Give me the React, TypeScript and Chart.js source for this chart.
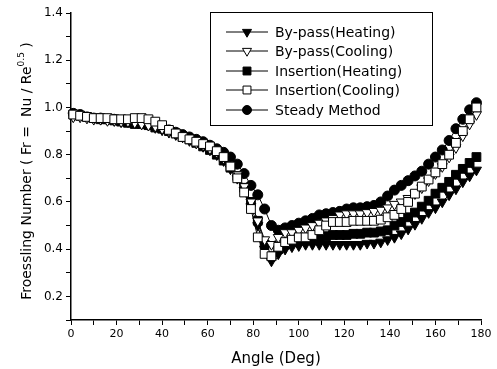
import { useEffect, useRef } from 'react';
import { Chart, registerables } from 'chart.js';

Chart.register(...registerables);

const FONT = '"DejaVu Sans", sans-serif';

// Angles (deg), every 3 degrees
const angles = [
  1, 4, 7, 10, 13, 16, 19, 22, 25, 28, 31, 34,
  37, 40, 43, 46, 49, 52, 55, 58, 61, 64, 67, 70,
  73, 76, 79, 82, 85, 88, 91, 94, 97, 100, 103, 106,
  109, 112, 115, 118, 121, 124, 127, 130, 133, 136, 139, 142,
  145, 148, 151, 154, 157, 160, 163, 166, 169, 172, 175, 178,
];

const bypassHeating = [
  0.965, 0.965, 0.96, 0.955, 0.95, 0.95, 0.945, 0.94, 0.94, 0.935, 0.93, 0.925,
  0.915, 0.905, 0.895, 0.885, 0.875, 0.86, 0.85, 0.835, 0.82, 0.8, 0.775, 0.74,
  0.7, 0.65, 0.58, 0.5, 0.4, 0.35, 0.38, 0.4, 0.41, 0.415, 0.42, 0.42,
  0.42, 0.42, 0.42, 0.42, 0.42, 0.42, 0.42, 0.425, 0.425, 0.43, 0.44, 0.45,
  0.465, 0.485, 0.505, 0.53, 0.555, 0.575, 0.6, 0.63, 0.655, 0.685, 0.71, 0.735,
];

const bypassCooling = [
  0.96, 0.96, 0.955, 0.95, 0.95, 0.945, 0.945, 0.94, 0.94, 0.935, 0.93, 0.925,
  0.92, 0.91, 0.9, 0.89, 0.88, 0.865, 0.85, 0.84, 0.825, 0.81, 0.785, 0.755,
  0.715, 0.665, 0.6, 0.52, 0.44, 0.42, 0.45, 0.47, 0.47, 0.48, 0.49, 0.5,
  0.51, 0.52, 0.53, 0.545, 0.55, 0.55, 0.55, 0.555, 0.56, 0.565, 0.575, 0.59,
  0.6, 0.615, 0.635, 0.66, 0.69, 0.72, 0.75, 0.79, 0.83, 0.88, 0.93, 0.97,
];

const insertionHeating = [
  0.97, 0.965, 0.96, 0.955, 0.95, 0.95, 0.945, 0.94, 0.935, 0.93, 0.93, 0.925,
  0.915, 0.91, 0.9, 0.89, 0.875, 0.865, 0.85, 0.835, 0.82, 0.8, 0.775, 0.745,
  0.71, 0.66, 0.6, 0.52, 0.42, 0.37, 0.4, 0.42, 0.43, 0.44, 0.445, 0.45,
  0.45, 0.455, 0.46, 0.46, 0.46, 0.465, 0.465, 0.47, 0.47, 0.475, 0.48, 0.5,
  0.515, 0.535, 0.555, 0.58, 0.605, 0.635, 0.66, 0.685, 0.715, 0.74, 0.765, 0.79,
];

const insertionCooling = [
  0.97, 0.965, 0.96, 0.955, 0.955, 0.955, 0.95, 0.95, 0.95, 0.955, 0.955, 0.95,
  0.94, 0.925, 0.905, 0.89, 0.875, 0.865, 0.855, 0.845, 0.835, 0.815, 0.79, 0.75,
  0.7, 0.64, 0.57, 0.45, 0.38, 0.37, 0.41, 0.43, 0.44, 0.45, 0.45, 0.46,
  0.48, 0.5, 0.515, 0.515, 0.515, 0.52, 0.52, 0.52, 0.52, 0.525, 0.535, 0.545,
  0.57, 0.6, 0.635, 0.665, 0.695, 0.725, 0.76, 0.8, 0.85, 0.9, 0.95, 1.0,
];

const steadyMethod = [
  0.975, 0.97, 0.96, 0.955, 0.955, 0.95, 0.95, 0.945, 0.94, 0.94, 0.935, 0.93,
  0.925, 0.915, 0.905, 0.895, 0.885, 0.875, 0.865, 0.855, 0.84, 0.825, 0.81, 0.79,
  0.76, 0.72, 0.67, 0.63, 0.57, 0.5, 0.48, 0.49, 0.5, 0.51, 0.52, 0.53,
  0.545, 0.55, 0.555, 0.56, 0.57, 0.575, 0.575, 0.58, 0.585, 0.6, 0.625, 0.65,
  0.67, 0.69, 0.71, 0.73, 0.76, 0.79, 0.82, 0.86, 0.91, 0.95, 0.99, 1.02,
];

const seriesLabels = [
  'By-pass(Heating)',
  'By-pass(Cooling)',
  'Insertion(Heating)',
  'Insertion(Cooling)',
  'Steady Method',
];

type Mk = { style: 'triangle' | 'rect' | 'circle'; filled: boolean; radius: number; order: number };
const markers: Mk[] = [
  { style: 'triangle', filled: true, radius: 5.8, order: 3 },
  { style: 'triangle', filled: false, radius: 5.8, order: 1 },
  { style: 'rect', filled: true, radius: 6.2, order: 2 },
  { style: 'rect', filled: false, radius: 6.2, order: 0 },
  { style: 'circle', filled: true, radius: 5, order: 4 },
];
const seriesValues = [bypassHeating, bypassCooling, insertionHeating, insertionCooling, steadyMethod];

function drawMarker(ctx: CanvasRenderingContext2D, m: Mk, x: number, y: number) {
  ctx.beginPath();
  if (m.style === 'circle') {
    ctx.arc(x, y, m.radius, 0, Math.PI * 2);
  } else if (m.style === 'rect') {
    const h = m.radius * Math.SQRT1_2;
    ctx.rect(x - h, y - h, 2 * h, 2 * h);
  } else {
    const r = m.radius;
    const s = r * Math.sin(Math.PI / 3);
    ctx.moveTo(x, y + r);
    ctx.lineTo(x - s, y - r / 2);
    ctx.lineTo(x + s, y - r / 2);
    ctx.closePath();
  }
  ctx.fillStyle = m.filled ? '#000' : '#fff';
  ctx.fill();
  ctx.lineWidth = 1;
  ctx.strokeStyle = '#000';
  ctx.stroke();
}

export default function App() {
  const ref = useRef<HTMLCanvasElement>(null);

  useEffect(() => {
    const canvas = ref.current;
    if (!canvas) return;

    const yTitlePlugin = {
      id: 'yTitleSup',
      afterDraw(chart: any) {
        const ctx: CanvasRenderingContext2D = chart.ctx;
        ctx.save();
        ctx.translate(27, 171);
        ctx.rotate(-Math.PI / 2);
        ctx.fillStyle = '#000';
        ctx.textBaseline = 'middle';
        ctx.textAlign = 'left';
        const main = 'Froessling Number ( Fr =  Nu / Re';
        const sup = '0.5';
        const tail = ' )';
        ctx.font = `14px ${FONT}`;
        const w1 = ctx.measureText(main).width;
        const w3 = ctx.measureText(tail).width;
        ctx.font = `9px ${FONT}`;
        const w2 = ctx.measureText(sup).width;
        let x = -(w1 + w2 + w3) / 2;
        ctx.font = `14px ${FONT}`;
        ctx.fillText(main, x, 0);
        x += w1;
        ctx.font = `9px ${FONT}`;
        ctx.fillText(sup, x, -5);
        x += w2;
        ctx.font = `14px ${FONT}`;
        ctx.fillText(tail, x, 0);
        ctx.restore();
      },
    };

    const legendPlugin = {
      id: 'boxLegend',
      afterDraw(chart: any) {
        const ctx: CanvasRenderingContext2D = chart.ctx;
        ctx.save();
        ctx.fillStyle = '#fff';
        ctx.fillRect(210, 12, 222, 113);
        ctx.strokeStyle = '#000';
        ctx.lineWidth = 1;
        ctx.strokeRect(210.5, 12.5, 222, 113);
        const rows = [32, 51, 71, 90, 110];
        chart.data.datasets.forEach((ds: any, i: number) => {
          const y = rows[i];
          ctx.beginPath();
          ctx.moveTo(226, y);
          ctx.lineTo(268, y);
          ctx.strokeStyle = '#000';
          ctx.lineWidth = 1;
          ctx.stroke();
          drawMarker(ctx, { ...markers[i], radius: markers[i].radius * 0.9 }, 247, y);
          ctx.fillStyle = '#000';
          ctx.font = `14px ${FONT}`;
          ctx.textAlign = 'left';
          ctx.textBaseline = 'middle';
          ctx.fillText(ds.label, 275, y + 1);
        });
        ctx.restore();
      },
    };

    const datasets = seriesLabels.map((label, i) => {
      const m = markers[i];
      return {
        label,
        data: angles.map((a, j) => ({ x: a, y: seriesValues[i][j] })),
        borderColor: '#000',
        borderWidth: 1,
        backgroundColor: m.filled ? '#000' : '#fff',
        pointBackgroundColor: m.filled ? '#000' : '#fff',
        pointBorderColor: '#000',
        pointBorderWidth: 1,
        pointStyle: m.style,
        pointRotation: m.style === 'triangle' ? 180 : 0,
        pointRadius: m.radius,
        tension: 0,
        fill: false,
        clip: false as any,
        order: m.order,
      };
    });

    const chart = new Chart(canvas, {
      type: 'line',
      data: { datasets },
      options: {
        responsive: false,
        animation: false,
        layout: { padding: { top: 13, right: 16, left: 0, bottom: 0 } },
        plugins: { legend: { display: false }, tooltip: { enabled: false } },
        scales: {
          x: {
            type: 'linear',
            min: 0,
            max: 180,
            afterFit: (s: any) => {
              s.height = 49;
            },
            ticks: {
              stepSize: 10,
              autoSkip: false,
              maxRotation: 0,
              padding: 3,
              color: '#000',
              font: { family: FONT, size: 11 },
              callback: (v: any) => (Math.round(Number(v)) % 20 === 0 ? String(Math.round(Number(v))) : ''),
            },
            grid: { display: true, drawOnChartArea: false, drawTicks: true, tickLength: 5, color: '#000', lineWidth: 1 },
            border: { display: true, color: '#000', width: 1.5 },
            title: {
              display: true,
              text: 'Angle (Deg)',
              color: '#000',
              font: { family: FONT, size: 15 },
              padding: { top: 0, bottom: 1 },
            },
          },
          y: {
            type: 'linear',
            min: 0.1,
            max: 1.4,
            afterFit: (s: any) => {
              s.width = 71;
            },
            ticks: {
              stepSize: 0.1,
              autoSkip: false,
              padding: 3,
              color: '#000',
              font: { family: FONT, size: 12 },
              callback: (v: any) => {
                const k = Math.round(Number(v) * 10);
                return k % 2 === 0 ? (k / 10).toFixed(1) : '';
              },
            },
            grid: { display: true, drawOnChartArea: false, drawTicks: true, tickLength: 5, color: '#000', lineWidth: 1 },
            border: { display: true, color: '#000', width: 1.5 },
          },
        },
      },
      plugins: [yTitlePlugin, legendPlugin],
    } as any);

    return () => chart.destroy();
  }, []);

  return (
    <div style={{ position: 'fixed', left: 0, top: 0, width: 497, height: 369, background: '#fff' }}>
      <canvas ref={ref} width={497} height={369} style={{ display: 'block' }} />
    </div>
  );
}
